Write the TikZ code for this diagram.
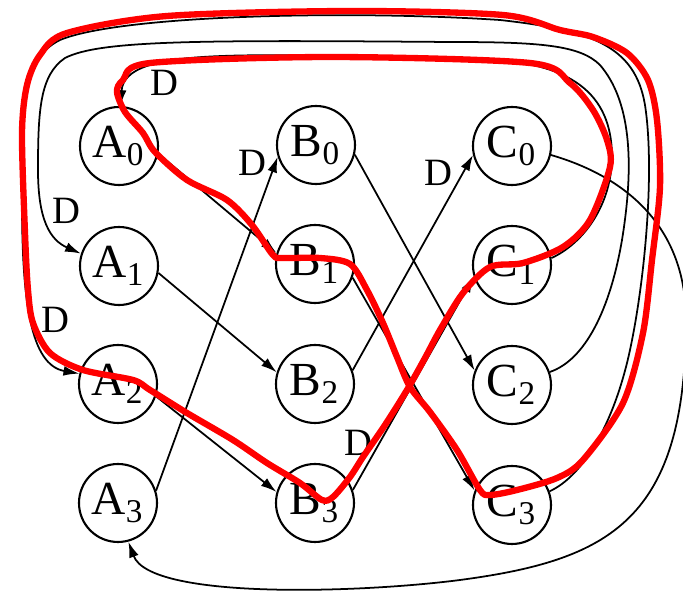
\documentclass[tikz,border=0pt]{standalone}
\usepackage{fontspec}
\setmainfont{Liberation Serif}
\usepackage{tikz}
\usetikzlibrary{arrows.meta}

\begin{document}
\begin{tikzpicture}[
    estado/.style={circle, draw, line width=0.6pt, minimum size=0.78cm, inner sep=0pt, font=\fontsize{13.5}{13.5}\selectfont},
    flecha/.style={line width=0.5pt, -{Latex[length=4.5pt,width=2.8pt]}},
    retardo/.style={inner sep=0pt, font=\fontsize{11}{11}\selectfont},
    trazo/.style={red, line width=1.8pt, line join=round, line cap=round}
]
    \useasboundingbox (0,0) rectangle (6.83,6.00);

    % Nodos
    \node[estado] (A0) at (1.19,4.54) {A\textsubscript{0}};
    \node[estado] (A1) at (1.19,3.34) {A\textsubscript{1}};
    \node[estado] (A2) at (1.18,2.16) {A\textsubscript{2}};
    \node[estado] (A3) at (1.18,0.97) {A\textsubscript{3}};
    \node[estado] (B0) at (3.16,4.55) {B\textsubscript{0}};
    \node[estado] (B1) at (3.15,3.36) {B\textsubscript{1}};
    \node[estado] (B2) at (3.15,2.16) {B\textsubscript{2}};
    \node[estado] (B3) at (3.15,0.97) {B\textsubscript{3}};
    \node[estado] (C0) at (5.12,4.54) {C\textsubscript{0}};
    \node[estado] (C1) at (5.12,3.35) {C\textsubscript{1}};
    \node[estado] (C2) at (5.12,2.15) {C\textsubscript{2}};
    \node[estado] (C3) at (5.12,0.95) {C\textsubscript{3}};

    % A -> B
    \draw[flecha] (A0.-11) -- (B1.164);
    \draw[flecha] (A1.-10) -- (B2.163);
    \draw[flecha] (A2.-18) -- (B3.164);
    \draw[flecha] (A3.18) -- (B0.197);

    % B -> C
    \draw[flecha] (B0.-14) -- (C2.159);
    \draw[flecha] (B1.-20) -- (C3.159);
    \draw[flecha] (B2.20) -- (C0.193);
    \draw[flecha] (B3.19) -- (C1.197);

    % C -> A
    \draw[flecha] (C0.-13) .. controls (6.3,4.22) and (6.86,3.7) .. (6.86,2.8)
        .. controls (6.86,0.8) and (6.1,0.4) .. (4.6,0.2)
        .. controls (3.6,0.07) and (1.5,0.0) .. (A3.-75);
    \draw[flecha] (C1.10) .. controls (5.8,3.55) and (6.1,3.9) .. (6.12,4.4)
        .. controls (6.13,5.0) and (5.8,5.38) .. (4.8,5.41)
        .. controls (2.5,5.45) and (1.25,5.55) .. (A0.88);
    \draw[flecha] (C2.19) .. controls (5.85,2.4) and (6.1,2.9) .. (6.22,3.6)
        .. controls (6.35,4.4) and (6.3,5.0) .. (6.0,5.35)
        .. controls (5.8,5.55) and (5.4,5.58) .. (4.5,5.58)
        .. controls (2.0,5.6) and (1.0,5.6) .. (0.65,5.42)
        .. controls (0.4,5.25) and (0.38,4.9) .. (0.38,4.3)
        .. controls (0.38,3.8) and (0.5,3.6) .. (A1.162);
    \draw[flecha] (C3.20) .. controls (5.85,1.25) and (6.15,1.8) .. (6.3,2.5)
        .. controls (6.45,3.2) and (6.55,4.3) .. (6.45,4.95)
        .. controls (6.35,5.55) and (5.9,5.7) .. (5.0,5.8)
        .. controls (3.5,5.9) and (1.2,5.85) .. (0.6,5.6)
        .. controls (0.2,5.4) and (0.22,4.9) .. (0.22,4.0)
        .. controls (0.22,3.0) and (0.3,2.35) .. (A2.165);

    % Retardos
    \node[retardo] (dA0) at (1.64,5.17) {D};
    \node[retardo] (dA1) at (0.66,3.89) {D};
    \node[retardo] (dA2) at (0.55,2.80) {D};
    \node[retardo] (dB0) at (2.52,4.37) {D};
    \node[retardo] (dC0) at (4.38,4.27) {D};
    \node[retardo] (dC1) at (3.58,1.57) {D};

    % Trazo rojo
    \draw[trazo] plot[smooth cycle, tension=0.5] coordinates {
        (1.17,5.08) (1.25,4.88) (1.43,4.67) (1.55,4.48) (1.87,4.20) (2.27,4.00)
        (2.52,3.75) (2.73,3.45) (2.83,3.42) (3.20,3.42) (3.50,3.36) (3.67,3.10)
        (3.83,2.77) (3.97,2.43) (4.10,2.13) (4.30,1.88) (4.57,1.50) (4.80,1.10)
        (4.90,1.05) (5.17,1.10) (5.57,1.22) (5.83,1.40) (6.23,1.97) (6.43,2.67)
        (6.52,3.40) (6.60,4.13) (6.57,4.80) (6.48,5.20) (6.27,5.47) (5.93,5.63)
        (5.60,5.70) (5.03,5.85) (3.50,5.89) (1.67,5.84) (0.67,5.67) (0.40,5.45)
        (0.27,5.15) (0.22,4.67) (0.25,3.67) (0.28,3.10) (0.33,2.77) (0.50,2.47)
        (0.83,2.30) (1.33,2.20) (1.50,2.10) (1.87,1.87) (2.33,1.60) (2.67,1.37)
        (3.00,1.17) (3.22,1.00) (3.33,1.03) (3.50,1.23) (3.63,1.43) (3.85,1.75)
        (4.07,2.10) (4.25,2.42) (4.40,2.70) (4.63,3.07) (4.90,3.33) (5.23,3.37)
        (5.63,3.53) (5.90,3.80) (6.10,4.33) (6.07,4.60) (5.93,4.90) (5.70,5.17)
        (5.30,5.37) (3.30,5.43) (1.50,5.37) (1.23,5.20)};
\end{tikzpicture}
\end{document}
